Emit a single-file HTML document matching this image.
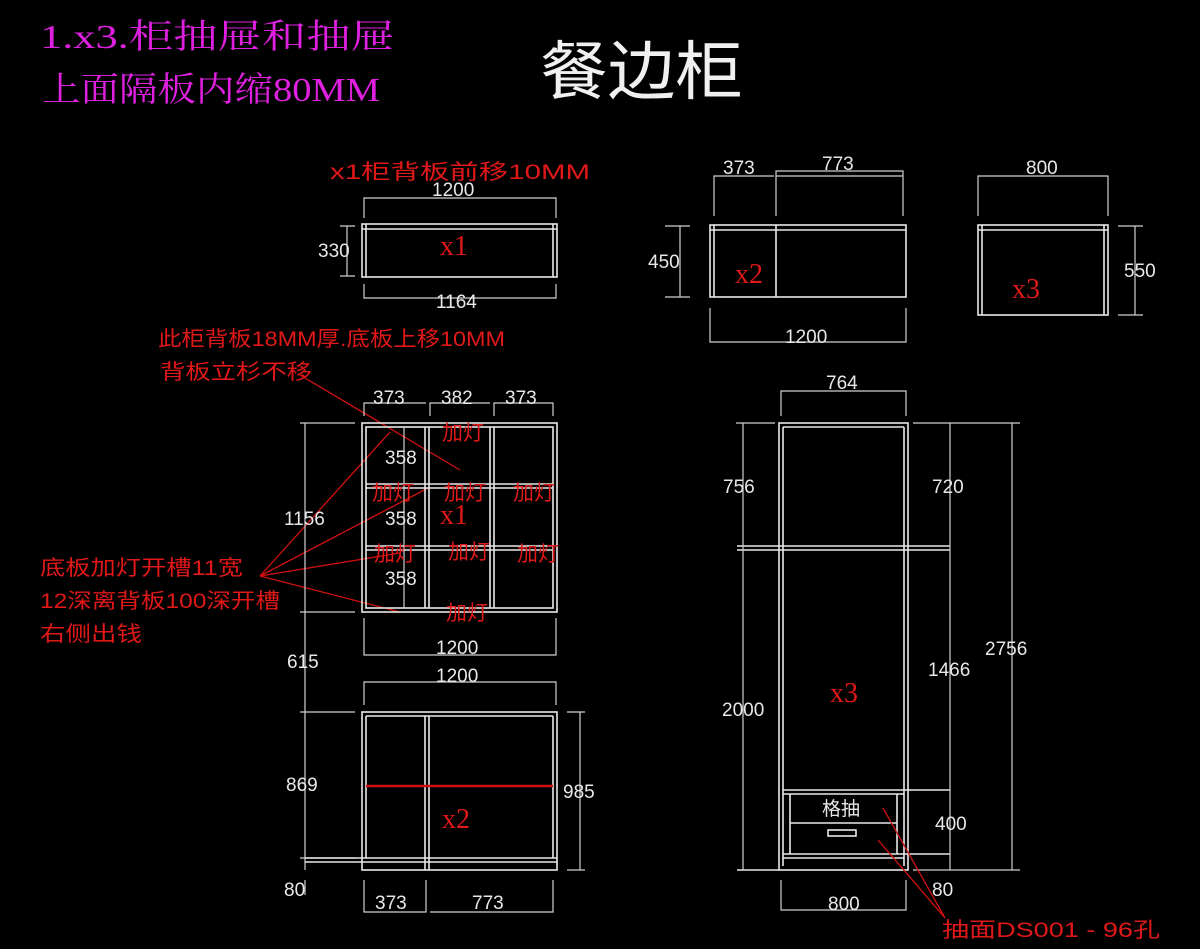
<!DOCTYPE html>
<html><head><meta charset="utf-8"><style>
html,body{margin:0;padding:0;background:#000;}
svg{display:block;}
text{font-family:"Liberation Sans","Noto Sans CJK SC",sans-serif;}
.w{stroke:#e8e8e8;stroke-width:1.6;fill:none;}
.d{stroke:#d0d0d0;stroke-width:1.2;fill:none;}
.r{stroke:#d01010;stroke-width:1.3;fill:none;}
.t{fill:#e8e8e8;font-size:19px;}
.rt{fill:#e01818;font-size:21px;}
.rs{fill:#e01818;font-size:28px;font-family:"Liberation Serif",serif;}
.m{fill:#e020e0;font-size:34px;font-family:"Liberation Serif","Noto Serif CJK SC",serif;}
</style></head><body>
<svg width="1200" height="949" viewBox="0 0 1200 949" xmlns="http://www.w3.org/2000/svg">
<rect width="1200" height="949" fill="#000"/>
<text class="m" x="40" y="48" textLength="355" lengthAdjust="spacingAndGlyphs">1.x3.柜抽屉和抽屉</text>
<text class="m" x="42" y="101" textLength="338" lengthAdjust="spacingAndGlyphs">上面隔板内缩80MM</text>
<text x="540" y="94" fill="#f0f0f0" font-size="64" textLength="203" lengthAdjust="spacingAndGlyphs" style="font-family:'Noto Sans CJK SC',sans-serif">餐边柜</text>

<!-- x1 top -->
<text class="rt" x="330" y="179" font-size="24" textLength="260" lengthAdjust="spacingAndGlyphs">x1柜背板前移10MM</text>
<rect class="w" x="362" y="224" width="195" height="53"/>
<line class="w" x1="362" y1="229" x2="557" y2="229"/><line class="w" x1="366" y1="224" x2="366" y2="277"/><line class="w" x1="553" y1="224" x2="553" y2="277"/>
<text class="rs" x="440" y="255">x1</text>
<path class="d" d="M364 218V198H556V218M364 284V298H556V284M340 226H355M340 276H355M347 226V276"/>
<text class="t" x="432" y="196">1200</text>
<text class="t" x="318" y="257">330</text>
<text class="t" x="436" y="308">1164</text>

<!-- x2 top -->
<rect class="w" x="710" y="225" width="196" height="72"/>
<line class="w" x1="710" y1="230" x2="906" y2="230"/><line class="w" x1="714" y1="225" x2="714" y2="297"/><line class="w" x1="776" y1="225" x2="776" y2="297"/>
<text class="rs" x="735" y="283">x2</text>
<path class="d" d="M714 216V176H774M776 216V171H903V216M776 176H903M710 308V342H906V308M665 226H690M665 297H690M680 226V297"/>
<text class="t" x="723" y="174">373</text><text class="t" x="822" y="170">773</text>
<text class="t" x="785" y="343">1200</text><text class="t" x="648" y="268">450</text>

<!-- x3 top -->
<rect class="w" x="978" y="225" width="130" height="90"/>
<line class="w" x1="978" y1="230" x2="1108" y2="230"/><line class="w" x1="982" y1="225" x2="982" y2="315"/><line class="w" x1="1104" y1="225" x2="1104" y2="315"/>
<text class="rs" x="1012" y="298">x3</text>
<path class="d" d="M978 216V176H1108V216M1118 226H1143M1118 315H1143M1135 226V315"/>
<text class="t" x="1026" y="174">800</text><text class="t" x="1124" y="277">550</text>

<!-- notes -->
<text class="rt" x="158" y="346" textLength="347" lengthAdjust="spacingAndGlyphs">此柜背板18MM厚.底板上移10MM</text>
<text class="rt" x="160" y="379" textLength="152" lengthAdjust="spacingAndGlyphs">背板立杉不移</text>
<text class="rt" x="40" y="575" textLength="203" lengthAdjust="spacingAndGlyphs">底板加灯开槽11宽</text>
<text class="rt" x="40" y="608" textLength="240" lengthAdjust="spacingAndGlyphs">12深离背板100深开槽</text>
<text class="rt" x="40" y="641" textLength="102" lengthAdjust="spacingAndGlyphs">右侧出钱</text>
<path class="r" d="M300 375L460 470M260 576L390 432M260 576L430 487M260 576L400 553M260 576L400 612"/>

<!-- x1 front -->
<rect class="w" x="362" y="423" width="195" height="189"/>
<rect class="w" x="366" y="427" width="187" height="181"/>
<path class="w" d="M425 427V608M429 427V608M490 427V608M494 427V608M366 484H553M366 488H553M366 546H553M366 550H553"/>
<path class="d" d="M364 416V403H426M430 416V403H490M494 416V403H553V416M404 427V608M364 618V655H556V618"/>
<text class="t" x="373" y="404">373</text><text class="t" x="441" y="404">382</text><text class="t" x="505" y="404">373</text>
<text class="t" x="385" y="464">358</text><text class="t" x="385" y="525">358</text><text class="t" x="385" y="585">358</text>
<text class="t" x="436" y="654">1200</text>
<g class="rt" font-size="17"><text x="442" y="440">加灯</text><text x="372" y="500">加灯</text><text x="444" y="500">加灯</text><text x="513" y="500">加灯</text><text x="374" y="561">加灯</text><text x="448" y="559">加灯</text><text x="517" y="561">加灯</text><text x="446" y="620">加灯</text></g>
<text class="rs" x="440" y="524">x1</text>

<!-- left dims -->
<path class="d" d="M305 423V870M300 423H355M300 612H355M300 712H355M300 858H355M305 880V895"/>
<text class="t" x="284" y="525">1156</text><text class="t" x="287" y="668">615</text><text class="t" x="286" y="791">869</text><text class="t" x="284" y="896">80</text>

<!-- x2 front -->
<rect class="w" x="362" y="712" width="195" height="158"/>
<path class="w" d="M366 716V858M553 716V858M366 716H553M425 716V870M429 716V870M305 858H557M305 862H557"/>
<line x1="366" y1="786" x2="553" y2="786" stroke="#d01010" stroke-width="2.5"/>
<text class="rs" x="442" y="828">x2</text>
<path class="d" d="M364 705V682H556V705M567 712H585M567 870H585M580 712V870M364 880V912H426V880M430 912H553V880"/>
<text class="t" x="436" y="682">1200</text><text class="t" x="563" y="798">985</text>
<text class="t" x="375" y="909">373</text><text class="t" x="472" y="909">773</text>

<!-- x3 front -->
<rect class="w" x="779" y="423" width="129" height="447"/>
<path class="w" d="M783 427V866M904 427V866M783 427H904M737 546H950M737 550H950M783 790H950M783 794H904M790 794V854M897 794V854M790 823H897M783 854H950M783 858H904M737 870H779"/>
<rect class="w" x="828" y="830" width="28" height="6"/>
<text class="t" x="822" y="815">格抽</text>
<path class="d" d="M781 416V391H906V416M743 423V870M736 423H775M913 423H1020M950 423V870M1012 423V870M913 870H1020M781 880V910H906V880"/>
<text class="t" x="826" y="389">764</text>
<text class="t" x="723" y="493">756</text><text class="t" x="722" y="716">2000</text>
<text class="t" x="932" y="493">720</text><text class="t" x="928" y="676">1466</text><text class="t" x="935" y="830">400</text><text class="t" x="932" y="896">80</text>
<text class="t" x="985" y="655">2756</text>
<text class="t" x="828" y="910">800</text>
<text class="rs" x="830" y="702">x3</text>
<path class="r" d="M883 808L945 918M878 840L945 918"/>
<text class="rt" x="942" y="937" textLength="218" lengthAdjust="spacingAndGlyphs">抽面DS001 - 96孔</text>
</svg>
</body></html>
